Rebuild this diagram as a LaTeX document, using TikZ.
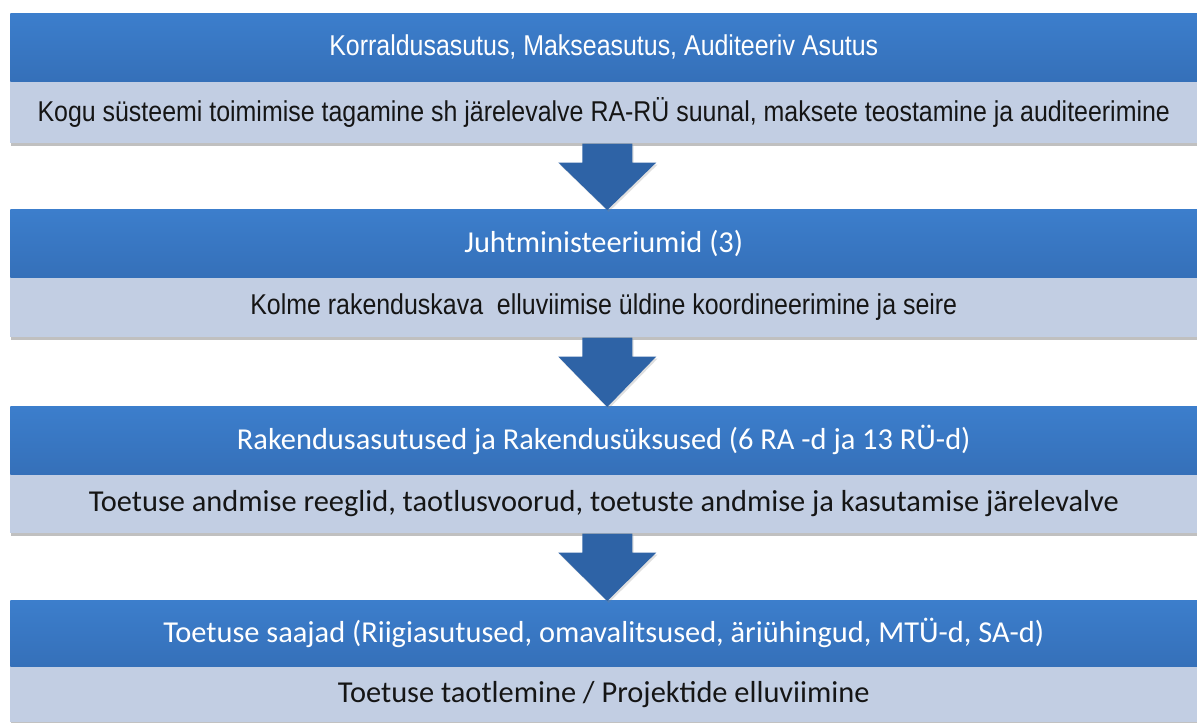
\documentclass[tikz,border=0pt]{standalone}
\usepackage{fontspec}
\setmainfont{Carlito}
\newfontfamily\narrowfont[FakeStretch=0.87]{Liberation Sans}
\usetikzlibrary{calc,shadows}
\definecolor{hdtop}{HTML}{3C7ECC}
\definecolor{hdbot}{HTML}{3570B9}
\definecolor{band}{HTML}{C2CEE3}
\definecolor{arrowc}{HTML}{2E63A6}
\definecolor{bodytext}{HTML}{151515}
\begin{document}
\begin{tikzpicture}[x=0.75pt,y=-0.75pt,
  header/.style={anchor=north west, minimum width=890.25pt, minimum height=#1, inner sep=0pt,
    top color=hdtop, bottom color=hdbot, text=white, draw=none},
  bandbox/.style={anchor=north west, minimum width=890.25pt, minimum height=#1, inner sep=0pt,
    fill=band, text=bodytext, draw=none,
    drop shadow={opacity=0.35, shadow xshift=0.8pt, shadow yshift=-2pt, fill=black!70}},
  narrowtext/.style={font=\narrowfont\fontsize{21.5}{25}\selectfont},
  calibritext/.style={font=\fontsize{22.8}{27}\selectfont},
  blockarrow/.style={fill=arrowc, draw=none, drop shadow={opacity=0.25, shadow xshift=1pt, shadow yshift=-1.5pt}}
]
\useasboundingbox (0,0) rectangle (1197,722);
\fill[white] (0,0) rectangle (1197,722);

% block 1
\node[bandbox=46.5pt, narrowtext] (b1l) at (10,81) {Kogu süsteemi toimimise tagamine sh järelevalve RA-RÜ suunal, maksete teostamine ja auditeerimine};
\node[header=51pt, narrowtext] (b1h) at (10,13) {Korraldusasutus, Makseasutus, Auditeeriv Asutus};

% block 2
\node[bandbox=45pt, narrowtext] (b2l) at (10,277) {Kolme rakenduskava\ \ elluviimise üldine koordineerimine ja seire};
\node[header=51pt, calibritext] (b2h) at (10,209) {Juhtministeeriumid (3)};

% block 3
\node[bandbox=44.25pt, calibritext] (b3l) at (10,474) {Toetuse andmise reeglid, taotlusvoorud, toetuste andmise ja kasutamise järelevalve};
\node[header=51pt, calibritext] (b3h) at (10,406) {Rakendusasutused ja Rakendusüksused (6 RA -d ja 13 RÜ-d)};

% block 4
\node[bandbox=42pt, calibritext] (b4l) at (10,666) {Toetuse taotlemine / Projektide elluviimine};
\node[header=49.5pt, calibritext] (b4h) at (10,600) {Toetuse saajad (Riigiasutused, omavalitsused, äriühingud, MTÜ-d, SA-d)};

% arrows
\foreach \a/\b in {b1l/b2h, b2l/b3h, b3l/b4h}{
  \path[blockarrow]
    ($(\a.south)+(-21.5,0)$) -- ($(\a.south)+(28.5,0)$) -- ($(\a.south)+(28.5,19)$)
    -- ($(\a.south)+(52.5,19)$) -- ($(\b.north)+(3.5,1)$) -- ($(\a.south)+(-45.5,19)$)
    -- ($(\a.south)+(-21.5,19)$) -- cycle;
}
\end{tikzpicture}
\end{document}
